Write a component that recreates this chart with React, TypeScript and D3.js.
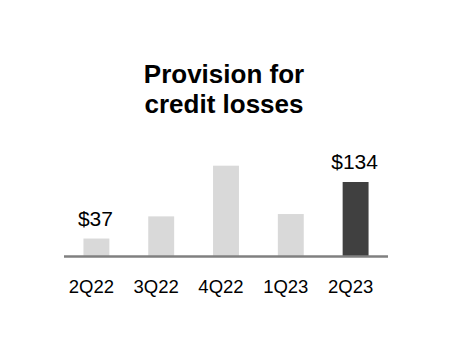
import React from "react";
import * as d3 from "d3";

const categories = ["2Q22", "3Q22", "4Q22", "1Q23", "2Q23"];
const values = [37, 75, 162, 79, 134];
const labels = ["$37", "", "", "", "$134"];
const highlight = [false, false, false, false, true];
const titleLines = ["Provision for", "credit losses"];

export default function App() {
  const W = 452, H = 360;
  const x = d3.scaleBand<string>().domain(categories).range([64, 388]).paddingInner(0.6).paddingOuter(0.3);
  const y = d3.scaleLinear().domain([7, 134]).range([256, 182]);
  const font = "'Liberation Sans', Arial, sans-serif";
  return (
    <svg width={W} height={H} style={{ position: "absolute", left: 0, top: 0 }} fontFamily={font}>
      <rect width={W} height={H} fill="#fff" />
      {titleLines.map((t, i) => (
        <text key={t} x={224} y={83 + i * 30} textAnchor="middle" fontSize={26} fontWeight="bold" fill="#000">{t}</text>
      ))}
      {categories.map((c, i) => (
        <rect key={c} x={x(c)} y={y(values[i])} width={x.bandwidth()} height={256 - y(values[i])}
          fill={highlight[i] ? "#404040" : "#d9d9d9"} />
      ))}
      <line x1={64} x2={388} y1={256.5} y2={256.5} stroke="#808080" strokeWidth={2.5} />
      {categories.map((c, i) => labels[i] ? (
        <text key={"l" + c} x={(x(c) as number) + x.bandwidth() / 2 - 1} y={y(values[i]) - 13} textAnchor="middle" fontSize={21} fill="#000">{labels[i]}</text>
      ) : null)}
      {categories.map((c) => (
        <text key={"t" + c} x={(x(c) as number) + x.bandwidth() / 2 - 5} y={292.5} textAnchor="middle" fontSize={18.5} fill="#000">{c}</text>
      ))}
    </svg>
  );
}
